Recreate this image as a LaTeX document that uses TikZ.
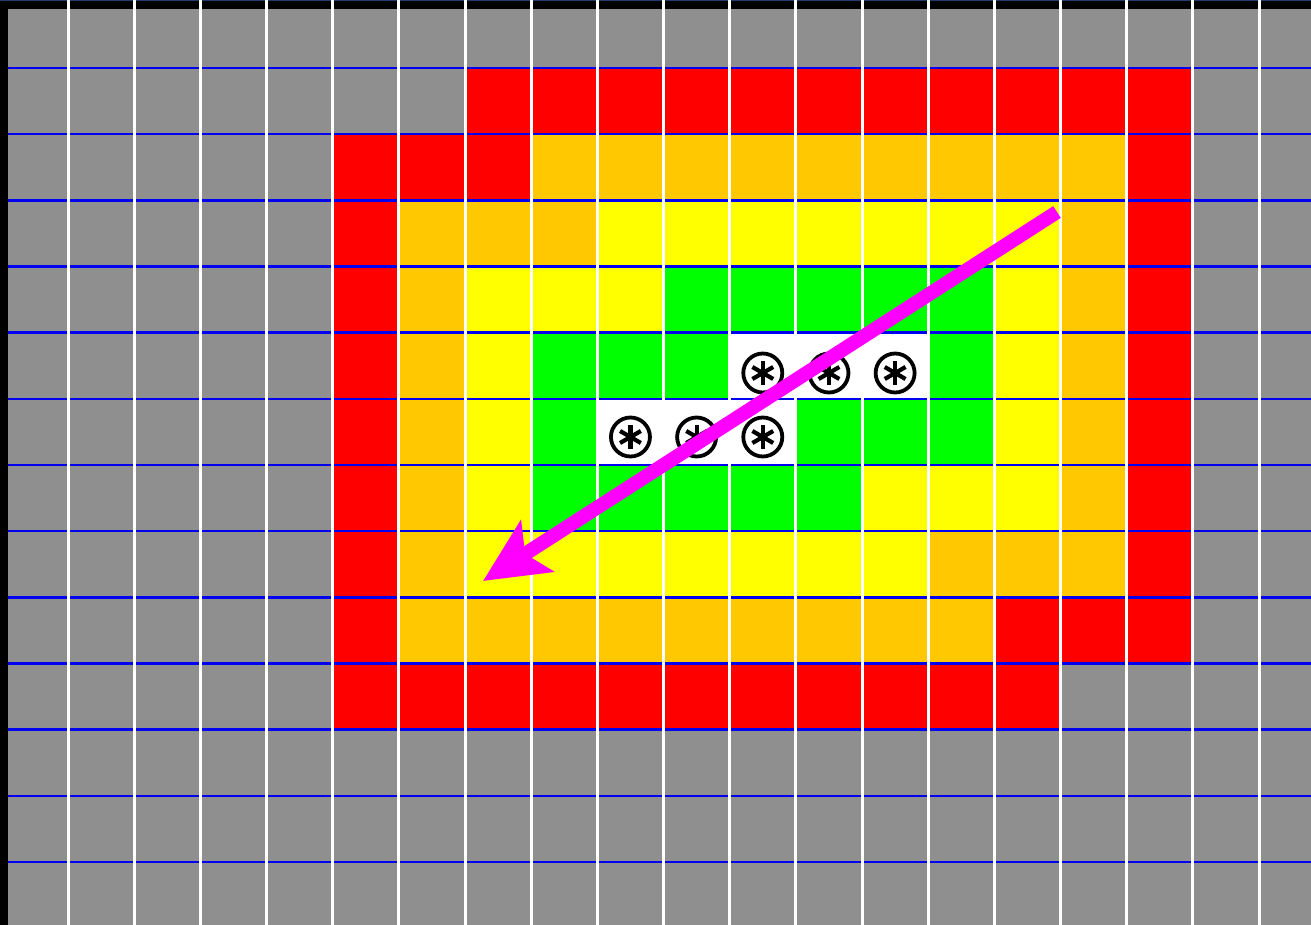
\documentclass[tikz,border=0pt]{standalone}
\usetikzlibrary{arrows.meta}
\definecolor{bggray}{RGB}{143,143,143}
\definecolor{cred}{RGB}{255,0,0}
\definecolor{corange}{RGB}{255,200,0}
\definecolor{cyellow}{RGB}{255,255,0}
\definecolor{cgreen}{RGB}{0,255,0}
\definecolor{cwhite}{RGB}{255,255,255}
\definecolor{gridblue}{RGB}{0,0,240}
\definecolor{topblue}{RGB}{30,60,110}
\definecolor{cmagenta}{RGB}{255,0,255}
\newcommand\cellrun[4]{\fill[#1] ({1.83+66.17*#3},{1.83+66.17*#2}) rectangle ({1.83+66.17*(#4+1)},{1.83+66.17*(#2+1)});}
\tikzset{
  hline/.style={draw=gridblue, line width=2.6pt},
  vline/.style={draw=white, line width=3pt},
  bigarrow/.style={draw=cmagenta, line width=14pt, -{Stealth[length=64pt, width=60pt, inset=14pt]}},
  oast/.pic={
    \draw[black, line width=3.8pt] (0,0) circle (19.5);
    \foreach \a in {30,90,150,210,270,330}
      \draw[black, line width=4.2pt] (0,0) -- (\a:12);
    \fill[black] (0,0) circle (4);
  }
}
\begin{document}
\begin{tikzpicture}[x=1pt,y=-1pt]
\useasboundingbox (0,0) rectangle (1311,925);
\fill[black] (0,0) rectangle (1311,925);
\fill[bggray] (8,9) rectangle (1311,925);
\draw[topblue, line width=1.2pt] (0,0.6) -- (1311,0.6);
% row 1
\cellrun{cred}{1}{7}{17}
% row 2
\cellrun{cred}{2}{5}{7}
\cellrun{corange}{2}{8}{16}
\cellrun{cred}{2}{17}{17}
% row 3
\cellrun{cred}{3}{5}{5}
\cellrun{corange}{3}{6}{8}
\cellrun{cyellow}{3}{9}{15}
\cellrun{corange}{3}{16}{16}
\cellrun{cred}{3}{17}{17}
% row 4
\cellrun{cred}{4}{5}{5}
\cellrun{corange}{4}{6}{6}
\cellrun{cyellow}{4}{7}{9}
\cellrun{cgreen}{4}{10}{14}
\cellrun{cyellow}{4}{15}{15}
\cellrun{corange}{4}{16}{16}
\cellrun{cred}{4}{17}{17}
% row 5
\cellrun{cred}{5}{5}{5}
\cellrun{corange}{5}{6}{6}
\cellrun{cyellow}{5}{7}{7}
\cellrun{cgreen}{5}{8}{10}
\cellrun{cwhite}{5}{11}{13}
\cellrun{cgreen}{5}{14}{14}
\cellrun{cyellow}{5}{15}{15}
\cellrun{corange}{5}{16}{16}
\cellrun{cred}{5}{17}{17}
% row 6
\cellrun{cred}{6}{5}{5}
\cellrun{corange}{6}{6}{6}
\cellrun{cyellow}{6}{7}{7}
\cellrun{cgreen}{6}{8}{8}
\cellrun{cwhite}{6}{9}{11}
\cellrun{cgreen}{6}{12}{14}
\cellrun{cyellow}{6}{15}{15}
\cellrun{corange}{6}{16}{16}
\cellrun{cred}{6}{17}{17}
% row 7
\cellrun{cred}{7}{5}{5}
\cellrun{corange}{7}{6}{6}
\cellrun{cyellow}{7}{7}{7}
\cellrun{cgreen}{7}{8}{12}
\cellrun{cyellow}{7}{13}{15}
\cellrun{corange}{7}{16}{16}
\cellrun{cred}{7}{17}{17}
% row 8
\cellrun{cred}{8}{5}{5}
\cellrun{corange}{8}{6}{6}
\cellrun{cyellow}{8}{7}{13}
\cellrun{corange}{8}{14}{16}
\cellrun{cred}{8}{17}{17}
% row 9
\cellrun{cred}{9}{5}{5}
\cellrun{corange}{9}{6}{14}
\cellrun{cred}{9}{15}{17}
% row 10
\cellrun{cred}{10}{5}{15}
% grid lines
\foreach \k in {1,...,13}
  \draw[hline] (8,{1.83+66.17*\k}) -- (1311,{1.83+66.17*\k});
\foreach \k in {1,...,19}
  \draw[vline] ({1.83+66.17*\k},0) -- ({1.83+66.17*\k},925);
% symbols
\foreach \c in {11,12,13}
  \pic at ({1.83+66.17*(\c+0.5)},373) {oast};
\foreach \c in {9,10,11}
  \pic at ({1.83+66.17*(\c+0.5)},437) {oast};
% arrow
\coordinate (start) at (1057,212);
\coordinate (tip) at (483,581);
\draw[bigarrow] (start) -- (tip);
\end{tikzpicture}
\end{document}
